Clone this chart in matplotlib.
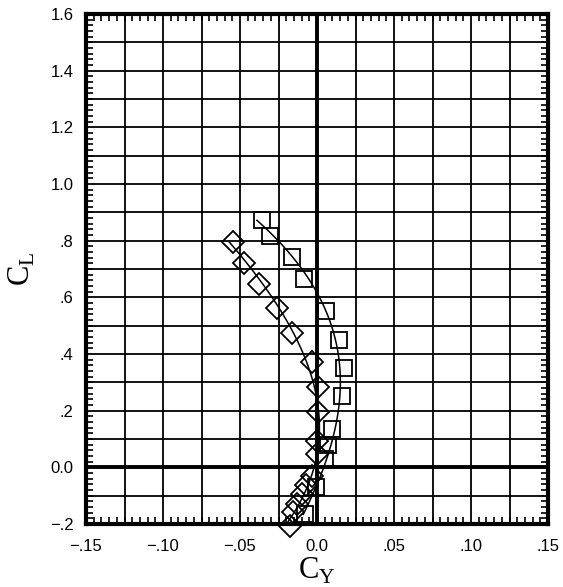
import numpy as np
import matplotlib.pyplot as plt
from matplotlib.ticker import MultipleLocator

# squares
cy_sq = [-0.0357, -0.0305, -0.0162, -0.0084, 0.0056, 0.0145, 0.0177, 0.0160,
         0.0095, 0.0073, 0.0052, -0.0006, -0.0078]
cl_sq = [0.872, 0.815, 0.741, 0.664, 0.552, 0.449, 0.352, 0.252,
         0.134, 0.078, 0.028, -0.071, -0.166]

# diamonds
cy_di = [-0.0543, -0.0472, -0.0377, -0.0262, -0.0164, -0.0031, 0.0008, 0.0008,
         0.0002, 0.0002, -0.0034, -0.0071, -0.0099, -0.0132, -0.0158, -0.0175]
cl_di = [0.795, 0.723, 0.646, 0.564, 0.475, 0.372, 0.282, 0.194,
         0.093, 0.046, -0.031, -0.064, -0.095, -0.131, -0.159, -0.207]

xticks = [-0.15, -0.10, -0.05, 0.0, 0.05, 0.10, 0.15]
xlabels = ['\u2212.15', '\u2212.10', '\u2212.05', '0.0', '.05', '.10', '.15']
yticks = [-0.2, 0.0, 0.2, 0.4, 0.6, 0.8, 1.0, 1.2, 1.4, 1.6]
ylabels = ['\u2212.2', '0.0', '.2', '.4', '.6', '.8', '1.0', '1.2', '1.4', '1.6']

plt.rcParams['font.family'] = ['Liberation Sans', 'DejaVu Sans']

fig = plt.figure(figsize=(5.63, 5.87), dpi=100)
ax = fig.add_axes([0.1528, 0.1073, 0.8206, 0.8688])
ax.set_xlim(-0.15, 0.15)
ax.set_ylim(-0.2, 1.6)

# grid
for gx in np.arange(-0.125, 0.15, 0.025):
    ax.axvline(gx, color='black', lw=1.3, zorder=1)
for gy in np.arange(-0.1, 1.6, 0.1):
    ax.axhline(gy, color='black', lw=1.3, zorder=1)
ax.axvline(0, color='black', lw=2.8, zorder=2)
ax.axhline(0, color='black', lw=2.8, zorder=2)

# smooth fairing curves (x as function of y)
p_sq = np.polyfit(cl_sq, cy_sq, 3)
ys = np.linspace(cl_sq[0], cl_sq[-1], 200)
ax.plot(np.polyval(p_sq, ys), ys, color='black', lw=1.1, zorder=3)
p_di = np.polyfit(cl_di, cy_di, 3)
yd = np.linspace(cl_di[0], cl_di[-1], 200)
ax.plot(np.polyval(p_di, yd), yd, color='black', lw=1.1, zorder=3)

ax.plot(cy_sq, cl_sq, 's', ms=11, mfc='none', mec='black', mew=1.3,
        zorder=4, clip_on=False)
ax.plot(cy_di, cl_di, 'D', ms=11, mfc='none', mec='black', mew=1.3,
        zorder=4, clip_on=False)

ax.set_xticks(xticks)
ax.set_xticklabels(xlabels, fontsize=12)
ax.set_yticks(yticks)
ax.set_yticklabels(ylabels, fontsize=12)
ax.xaxis.set_minor_locator(MultipleLocator(0.005))
ax.yaxis.set_minor_locator(MultipleLocator(0.02))
ax.tick_params(which='both', direction='in', top=True, right=True, width=1.2)
ax.tick_params(which='major', length=0)
ax.tick_params(axis='x', which='major', pad=11)
ax.tick_params(axis='y', which='major', pad=9)
ax.tick_params(which='minor', length=5)
for s in ax.spines.values():
    s.set_linewidth(3)

ax.set_xlabel('C$_\\mathregular{Y}$', fontsize=22, family='Liberation Serif', labelpad=1)
ax.set_ylabel('C$_\\mathregular{L}$', fontsize=22, family='Liberation Serif', labelpad=9)

fig.savefig('out.png', dpi=100)
